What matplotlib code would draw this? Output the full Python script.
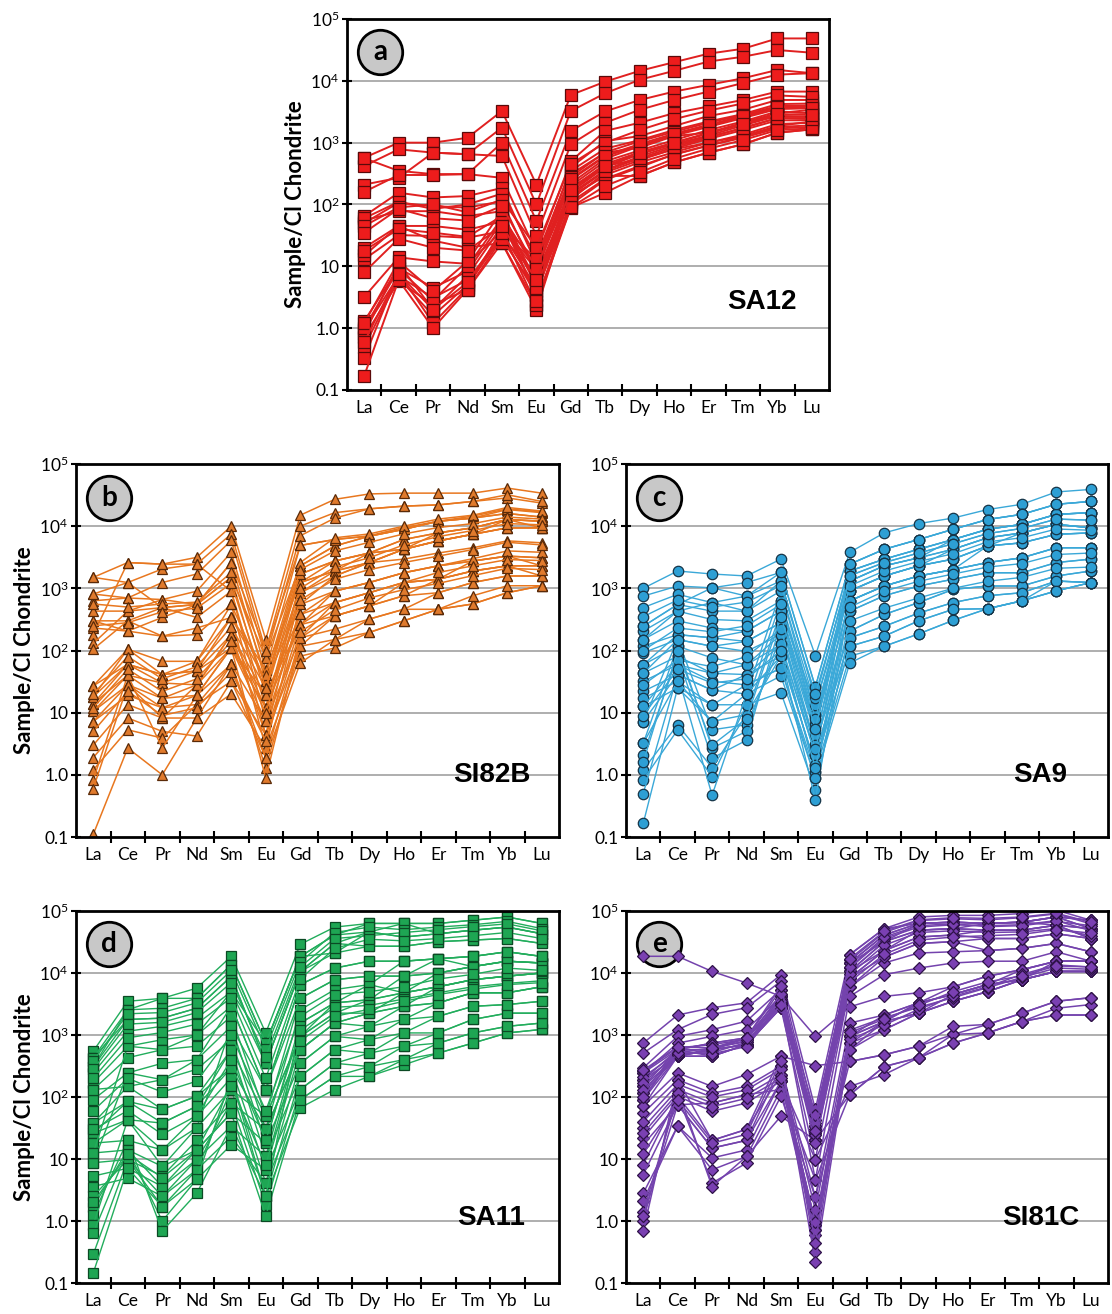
import matplotlib
matplotlib.use("Agg")
import matplotlib.pyplot as plt
from matplotlib.ticker import FixedLocator, FixedFormatter, NullFormatter

# Fonts
plt.rcParams["font.family"] = ["Lato", "DejaVu Sans"]
plt.rcParams["mathtext.fontset"] = "custom"
plt.rcParams["mathtext.rm"] = "Lato"
plt.rcParams["mathtext.default"] = "rm"

# Data: chondrite-normalised REE profiles (one row per analysis)
ree = ["La", "Ce", "Pr", "Nd", "Sm", "Eu", "Gd", "Tb", "Dy", "Ho", "Er", "Tm", "Yb", "Lu"]
y_ticks = [0.1, 1, 10, 100, 1000, 1e4, 1e5]
y_tick_labels = ["0.1", "1.0", "10", "10$^2$", "10$^3$", "10$^4$", "10$^5$"]

sa12 = [
    [570, 1000, 1000, 1200, 3250, 210, 5900, 9700, 14500, 20000, 27500, 33000, 48500, 48500],
    [420, 780, 690, 650, 1750, 100, 3250, 6300, 10400, 14500, 20500, 24500, 31500, 28500],
    [560, 350, 310, 310, 1000, 54, 1550, 3200, 4900, 6700, 8600, 11000, 15000, 13300],
    [210, 270, 690, 650, 610, 31, 940, 2100, 3400, 4900, 6700, 9200, 12600, 13300],
    [160, 300, 300, 310, 270, 17, 500, 1550, 2100, 3000, 3850, 4900, 6700, 6700],
    [65, 155, 130, 137, 185, 11, 400, 1060, 1280, 1860, 2700, 3400, 4900, 4900],
    [50, 107, 94, 89, 113, 7.3, 310, 690, 830, 1280, 1450, 2100, 3000, 3400],
    [55, 78, 78, 65, 78, 5, 186, 420, 540, 780, 1000, 1280, 1860, 2200],
    [20, 45, 45, 39, 53, 3.5, 137, 290, 290, 480, 690, 940, 1450, 1640],
    [13, 32, 31, 29, 37, 2.4, 89, 155, 290, 480, 690, 940, 1450, 1640],
    [15, 45, 26, 20, 24, 2.0, 110, 260, 420, 640, 900, 1250, 1800, 1900],
    [3.2, 14, 12, 11, 37, 11, 250, 600, 900, 1300, 1800, 2500, 3500, 3600],
    [1.3, 9.4, 4.5, 8.3, 53, 5, 200, 500, 750, 1100, 1600, 2200, 3200, 3000],
    [0.95, 7, 3.1, 6, 30, 3.5, 160, 400, 650, 950, 1300, 1900, 2700, 2600],
    [0.73, 5.7, 2.4, 4.2, 24, 2.4, 120, 330, 520, 800, 1150, 1600, 2300, 2300],
    [0.5, 6.5, 1.6, 5, 30, 7.3, 150, 360, 600, 900, 1250, 1700, 2500, 2500],
    [0.33, 8, 1.2, 4.5, 40, 9, 180, 450, 700, 1000, 1400, 2000, 2800, 2900],
    [0.17, 6, 1.0, 4.2, 28, 4, 100, 250, 400, 650, 900, 1200, 1700, 1800],
    [60, 110, 85, 100, 150, 14, 350, 800, 1100, 1600, 2200, 2900, 4200, 4300],
    [45, 90, 100, 75, 120, 20, 450, 1000, 1600, 2400, 3300, 4300, 5800, 5500],
    [18, 40, 35, 30, 65, 9, 220, 550, 880, 1350, 1900, 2600, 3700, 3800],
    [0.8, 11, 2.0, 7, 45, 13, 280, 700, 1050, 1500, 2100, 2800, 3900, 4000],
    [1.0, 9, 2.8, 10, 60, 6, 130, 300, 480, 700, 1000, 1350, 2000, 2100],
    [1.2, 12, 4, 12, 80, 2.8, 90, 200, 330, 550, 800, 1100, 1600, 1700],
    [35, 85, 60, 55, 95, 9, 260, 620, 950, 1400, 1950, 2700, 3800, 3700],
    [0.6, 7.5, 2.0, 5.5, 35, 4.5, 140, 350, 560, 850, 1200, 1750, 2500, 2400],
    [8, 28, 20, 18, 45, 6, 170, 420, 680, 1000, 1450, 2000, 2900, 2800],
]

si82b = [
    [1500, 2600, 2450, 3150, 10000, 150, 15000, 27000, 33000, 34000, 34000, 34000, 41000, 34000],
    [810, 1240, 2050, 2450, 7500, 100, 10000, 16500, 19000, 21000, 22000, 25000, 28500, 23500],
    [630, 700, 1240, 1700, 5900, 76, 7000, 13500, 19000, 21000, 22000, 25000, 32000, 25000],
    [430, 430, 660, 900, 3800, 49, 4900, 6100, 6900, 8900, 12000, 13500, 18500, 16500],
    [300, 300, 490, 550, 2600, 32, 2300, 4800, 6900, 8900, 12000, 13500, 16000, 14000],
    [230, 205, 340, 550, 1500, 19, 1700, 2750, 3700, 6100, 7800, 9400, 12800, 12000],
    [180, 2600, 2450, 2450, 900, 12, 1240, 1900, 3700, 4250, 5800, 7400, 12800, 12000],
    [130, 430, 490, 340, 900, 7.3, 1240, 2750, 3700, 4250, 7800, 9400, 12800, 9400],
    [105, 300, 170, 180, 550, 4.4, 850, 1900, 2600, 4250, 5800, 7400, 9400, 9400],
    [300, 205, 170, 230, 340, 2.7, 550, 1580, 2600, 2950, 3700, 4500, 5800, 5400],
    [27, 105, 67, 67, 340, 32, 550, 900, 1240, 1780, 2300, 2750, 3300, 3100],
    [18, 60, 41, 47, 180, 19, 380, 590, 850, 1240, 1400, 1900, 2300, 2300],
    [14, 40, 30, 28, 110, 12, 260, 360, 520, 760, 850, 1240, 1580, 1580],
    [10.5, 28, 17, 19, 60, 7.3, 160, 220, 320, 460, 460, 560, 850, 1100],
    [7.2, 19, 12, 13.5, 32, 4.4, 117, 150, 195, 300, 460, 560, 850, 1100],
    [3.0, 13.5, 8.2, 8.2, 20, 2.7, 81, 110, 195, 300, 460, 760, 1100, 1100],
    [1.9, 8.2, 5, 4.2, 32, 1.9, 63, 150, 320, 460, 850, 1240, 1580, 1580],
    [1.2, 5.3, 3.9, 13.5, 60, 1.3, 117, 360, 520, 760, 1400, 1900, 2300, 1580],
    [0.83, 40, 2.7, 19, 110, 0.89, 160, 590, 850, 1240, 1400, 2750, 3300, 2300],
    [0.6, 28, 8.2, 28, 180, 4.4, 260, 900, 1240, 1780, 2300, 2750, 3300, 3100],
    [0.11, 2.7, 1.0, 8.2, 60, 1.9, 160, 360, 520, 1240, 1400, 1900, 2300, 2300],
    [14, 60, 30, 47, 340, 49, 1240, 1900, 2600, 4250, 5800, 7400, 9400, 9400],
    [18, 105, 41, 67, 550, 32, 1700, 2750, 3700, 6100, 7800, 9400, 12800, 12000],
    [10.5, 40, 17, 28, 180, 12, 850, 1580, 2600, 4250, 5800, 7400, 9400, 9400],
    [7.2, 28, 12, 19, 110, 7.3, 380, 900, 1240, 1780, 2300, 3000, 4000, 3800],
    [27, 60, 41, 47, 110, 19, 260, 590, 850, 1240, 1800, 2300, 2900, 2800],
    [1500, 1240, 490, 550, 1500, 76, 2300, 4800, 6900, 8900, 12000, 13500, 16000, 14000],
    [810, 700, 660, 550, 2600, 100, 4900, 6100, 7000, 9500, 12000, 14500, 19000, 17000],
    [560, 500, 560, 600, 1800, 40, 2600, 6500, 7500, 10000, 13000, 15000, 20000, 17500],
    [250, 280, 420, 480, 1200, 25, 2000, 4000, 5500, 7500, 9500, 11000, 14000, 13000],
    [20, 80, 35, 55, 240, 25, 1000, 2200, 3100, 5000, 6800, 8500, 11000, 10500],
    [12, 50, 22, 35, 140, 10, 650, 1400, 2000, 2600, 3300, 4200, 5500, 5000],
    [5, 22, 9, 12, 45, 3.5, 200, 450, 700, 950, 1200, 1600, 2100, 2000],
]

sa9 = [
    [1000, 1900, 1700, 1580, 2950, 83, 3800, 7800, 11000, 13500, 18500, 22500, 35500, 39000],
    [750, 1090, 1020, 1240, 1800, 26, 2450, 4250, 6100, 8900, 12800, 15500, 22500, 25000],
    [490, 800, 590, 750, 1310, 17, 1900, 2950, 4250, 6100, 8900, 10700, 15500, 16500],
    [245, 550, 430, 430, 910, 13.4, 1310, 2300, 3100, 4250, 6500, 7800, 10700, 9400],
    [205, 430, 315, 300, 630, 9.3, 910, 1580, 2300, 2950, 4800, 5400, 7400, 7800],
    [150, 300, 230, 205, 430, 6.4, 630, 1090, 1580, 2000, 2600, 3100, 4500, 4500],
    [117, 180, 160, 140, 280, 4.4, 430, 760, 1090, 1400, 1780, 1780, 2600, 2950],
    [92, 150, 117, 97, 180, 3.0, 205, 380, 590, 960, 1090, 1090, 1580, 1900],
    [59, 117, 76, 59, 125, 2.1, 160, 245, 400, 590, 760, 850, 1310, 1240],
    [43, 81, 43, 41, 81, 1.45, 117, 170, 300, 460, 470, 630, 910, 1240],
    [32, 59, 32, 28, 52, 1.1, 81, 117, 185, 305, 470, 630, 910, 1240],
    [22, 41, 23, 20, 39, 0.89, 63, 117, 185, 305, 470, 630, 1310, 1240],
    [17, 32, 13.4, 13.4, 21, 0.57, 205, 380, 590, 960, 1090, 1090, 1580, 1900],
    [12.6, 25, 7.2, 9.3, 81, 0.4, 630, 1090, 1580, 2000, 4800, 5400, 7400, 7800],
    [7.2, 150, 5.3, 6.4, 125, 1.1, 910, 1580, 2300, 4250, 6500, 7800, 10700, 9400],
    [3.2, 117, 2.7, 5, 180, 2.1, 1310, 2300, 3100, 4250, 6500, 7800, 10700, 9400],
    [2.1, 81, 1.85, 3.6, 280, 3.0, 1900, 2950, 4250, 6100, 8900, 10700, 15500, 16500],
    [1.2, 6.4, 1.3, 9.3, 430, 4.4, 2450, 4250, 6100, 8900, 12800, 15500, 22500, 25000],
    [0.83, 5.3, 0.94, 13.4, 630, 6.4, 1310, 2300, 3100, 6100, 8900, 10700, 15500, 16500],
    [0.5, 41, 0.47, 20, 910, 9.3, 910, 1580, 2300, 2950, 4800, 7800, 10700, 9400],
    [0.165, 25, 13.4, 28, 52, 0.89, 630, 1090, 1580, 2000, 2600, 3100, 4500, 4500],
    [59, 180, 160, 205, 430, 13.4, 910, 1580, 2300, 2950, 4800, 5400, 7400, 7800],
    [43, 150, 117, 140, 280, 6.4, 630, 1090, 1580, 2000, 2600, 3100, 4500, 4500],
    [12.6, 59, 43, 59, 180, 3.0, 430, 760, 1090, 1400, 1780, 1780, 2600, 2950],
    [7.2, 41, 23, 41, 125, 2.1, 160, 245, 400, 590, 760, 850, 1310, 1240],
    [3.2, 32, 7.2, 20, 81, 1.45, 117, 170, 300, 460, 470, 630, 910, 1240],
    [150, 430, 590, 430, 1310, 17, 1900, 2950, 4250, 6100, 8900, 10700, 15500, 16500],
    [245, 550, 1020, 750, 1800, 26, 2450, 4250, 6100, 8900, 12800, 15500, 22500, 25000],
    [350, 650, 500, 600, 1100, 20, 1600, 2600, 3700, 5200, 7600, 9200, 13000, 12500],
    [100, 230, 200, 250, 550, 8, 1100, 1900, 2700, 3600, 5600, 6500, 9000, 8600],
    [28, 70, 55, 80, 220, 2.6, 500, 900, 1300, 1700, 2200, 2500, 3500, 3700],
    [9, 50, 30, 35, 100, 1.3, 300, 480, 700, 1000, 1300, 1500, 2100, 2200],
    [1.6, 100, 3, 8, 350, 5.5, 1600, 2600, 3700, 5200, 7600, 9200, 13000, 12500],
]

sa11 = [
    [550, 3500, 3900, 5700, 18500, 1080, 29000, 55000, 63000, 63000, 63000, 71000, 80000, 63000],
    [430, 2550, 2700, 3900, 13600, 740, 18500, 41000, 46000, 38000, 43000, 49000, 55000, 43000],
    [310, 1780, 1870, 2700, 8800, 350, 10600, 30000, 27000, 27000, 32000, 34000, 36000, 30000],
    [245, 1150, 1380, 1870, 5000, 740, 18500, 21000, 46000, 63000, 43000, 49000, 55000, 43000],
    [170, 660, 840, 1000, 2900, 132, 6500, 12000, 15500, 15500, 17000, 18500, 22000, 18500],
    [132, 430, 580, 660, 2000, 49, 3900, 7800, 8900, 8900, 10000, 12700, 15500, 14500],
    [91, 245, 350, 400, 1380, 30, 2550, 5400, 6500, 4800, 6000, 7800, 8900, 10000],
    [132, 148, 190, 280, 840, 18, 1560, 3300, 3700, 4800, 6000, 7800, 8900, 10000],
    [38, 85, 63, 103, 580, 11, 950, 2250, 2250, 2900, 3300, 4800, 4800, 6000],
    [26, 43, 38, 71, 295, 6.7, 580, 1560, 1380, 1780, 2000, 2900, 3100, 3500],
    [18, 20, 14, 49, 203, 4.1, 350, 950, 840, 1080, 1080, 1780, 2250, 2250],
    [12.5, 14, 7.6, 32, 132, 2.5, 215, 580, 510, 660, 740, 1080, 1380, 1560],
    [8.7, 9.8, 5.3, 20, 80, 1.8, 132, 350, 310, 400, 510, 740, 1080, 1230],
    [5.3, 7.1, 3.6, 14, 55, 1.2, 91, 215, 215, 330, 510, 740, 1080, 1230],
    [3.6, 4.9, 2.5, 9.8, 34, 2.5, 67, 132, 215, 400, 740, 1080, 1380, 1560],
    [2.5, 9.8, 1.7, 6.7, 23, 4.1, 91, 215, 310, 660, 1080, 1780, 2250, 2250],
    [1.7, 14, 1.0, 4.7, 17, 6.7, 132, 350, 510, 1080, 2000, 2900, 3100, 3500],
    [1.27, 20, 0.69, 2.8, 34, 11, 215, 580, 840, 1780, 3300, 4800, 4800, 6000],
    [0.87, 43, 7.6, 14, 55, 18, 350, 950, 1380, 2900, 6000, 7800, 8900, 10000],
    [0.64, 14, 3.6, 9.8, 80, 30, 580, 1560, 2250, 4800, 10000, 12700, 15500, 14500],
    [0.29, 9.8, 2.5, 6.7, 132, 49, 950, 2250, 3700, 8900, 17000, 18500, 22000, 18500],
    [0.145, 7.1, 1.7, 4.7, 203, 2.5, 1560, 3300, 6500, 15500, 17000, 12700, 15500, 14500],
    [38, 148, 63, 103, 295, 30, 580, 1560, 2250, 2900, 3300, 4800, 4800, 6000],
    [26, 85, 38, 71, 580, 49, 950, 3300, 3700, 4800, 6000, 7800, 8900, 10000],
    [18, 43, 14, 32, 1380, 132, 3900, 7800, 8900, 8900, 10000, 12700, 15500, 14500],
    [310, 2550, 3900, 3900, 13600, 740, 18500, 41000, 63000, 63000, 63000, 71000, 80000, 63000],
    [430, 1780, 1870, 2700, 8800, 350, 10600, 30000, 46000, 38000, 43000, 49000, 55000, 43000],
    [8.7, 245, 190, 400, 2900, 132, 6500, 12000, 15500, 15500, 17000, 18500, 22000, 18500],
    [12.5, 660, 580, 1000, 5000, 350, 10600, 21000, 27000, 27000, 32000, 34000, 36000, 30000],
    [380, 2200, 2300, 3300, 11000, 600, 15000, 45000, 55000, 50000, 55000, 60000, 68000, 52000],
    [280, 1500, 1600, 2300, 7000, 450, 12500, 36000, 40000, 45000, 50000, 56000, 62000, 48000],
    [200, 900, 1100, 1500, 4000, 200, 8000, 25000, 35000, 33000, 36000, 40000, 45000, 36000],
    [60, 200, 120, 180, 1000, 60, 2000, 4500, 5000, 6000, 8000, 9500, 12000, 11000],
    [30, 60, 25, 50, 400, 20, 1200, 2800, 3000, 3800, 4800, 6000, 6800, 7500],
    [2, 12, 5, 14, 150, 8, 800, 2000, 2600, 3500, 4500, 5500, 6500, 7000],
]

si81c = [
    [18600, 18600, 10600, 6900, 4200, 950, 2850, 4200, 4800, 6000, 8900, 11300, 15500, 15500],
    [740, 2100, 2750, 3300, 9400, 63, 19800, 52000, 80000, 85000, 85000, 91000, 103000, 71000],
    [510, 1220, 2150, 2750, 7400, 43, 14500, 41000, 63000, 66000, 63000, 66000, 80000, 52000],
    [295, 950, 1220, 1670, 5400, 34, 10600, 32000, 49000, 52000, 49000, 49000, 59000, 36000],
    [245, 740, 950, 1220, 4200, 26, 8300, 23000, 38000, 41000, 36000, 36000, 43000, 36000],
    [190, 580, 740, 900, 3300, 20, 6000, 18000, 30000, 32000, 23000, 25000, 30000, 22000],
    [148, 580, 580, 700, 2750, 43, 14500, 41000, 63000, 66000, 63000, 66000, 59000, 52000],
    [115, 455, 580, 700, 3300, 34, 10600, 32000, 49000, 52000, 49000, 49000, 59000, 52000],
    [91, 455, 455, 700, 4200, 26, 8300, 23000, 49000, 52000, 63000, 66000, 80000, 71000],
    [245, 580, 580, 900, 5400, 20, 19800, 52000, 63000, 66000, 63000, 66000, 80000, 71000],
    [190, 455, 455, 700, 2750, 9.8, 6000, 14500, 21000, 22000, 23000, 25000, 30000, 22000],
    [148, 455, 580, 900, 3300, 4.6, 4200, 9400, 12000, 14500, 15500, 15500, 22000, 15500],
    [71, 245, 148, 230, 455, 320, 375, 480, 660, 1020, 1480, 2250, 3500, 4000],
    [55, 190, 115, 148, 315, 2.4, 1560, 2100, 3300, 4500, 6500, 7800, 10600, 10600],
    [32, 132, 80, 109, 230, 0.87, 950, 1650, 2250, 3500, 5000, 7800, 10600, 10600],
    [22, 103, 59, 80, 180, 0.72, 740, 1220, 2250, 3500, 5000, 7800, 10600, 10600],
    [17, 75, 80, 109, 132, 0.6, 580, 1650, 3300, 4500, 6500, 11300, 15500, 15500],
    [8.1, 103, 20, 30, 455, 0.32, 950, 2100, 3300, 4500, 6500, 7800, 10600, 10600],
    [5.6, 75, 15, 20, 315, 0.22, 740, 1650, 2250, 3500, 5000, 7800, 10600, 10600],
    [2.8, 34, 10.4, 14, 180, 9.8, 148, 230, 430, 740, 1080, 1650, 2100, 2100],
    [2.1, 34, 6.7, 11, 132, 4.6, 109, 310, 430, 1020, 1080, 1650, 2700, 3100],
    [1.4, 103, 4.1, 8.6, 103, 2.4, 375, 480, 660, 1380, 1480, 2250, 3500, 4000],
    [1.0, 132, 3.6, 11, 49, 20, 109, 310, 430, 740, 1080, 1650, 2100, 2100],
    [0.68, 190, 20, 30, 230, 0.87, 580, 1220, 2250, 4500, 6500, 7800, 15500, 15500],
    [1.2, 75, 15, 20, 180, 0.72, 950, 1650, 3300, 6000, 8900, 11300, 15500, 15500],
    [91, 580, 740, 900, 4200, 20, 10600, 23000, 38000, 41000, 49000, 49000, 59000, 36000],
    [71, 455, 580, 700, 3300, 26, 14500, 32000, 63000, 66000, 63000, 66000, 80000, 52000],
    [115, 580, 455, 700, 2750, 34, 8300, 18000, 30000, 32000, 36000, 36000, 43000, 36000],
    [260, 620, 700, 850, 3800, 30, 12000, 36000, 55000, 60000, 58000, 60000, 70000, 48000],
    [210, 520, 620, 780, 3000, 38, 9500, 28000, 45000, 48000, 45000, 46000, 52000, 40000],
    [170, 500, 520, 760, 3600, 24, 16000, 45000, 70000, 75000, 72000, 78000, 90000, 62000],
    [130, 470, 600, 820, 4600, 52, 12500, 38000, 58000, 62000, 56000, 58000, 68000, 58000],
    [100, 520, 500, 650, 3100, 18, 7200, 20000, 34000, 38000, 40000, 42000, 50000, 44000],
    [270, 650, 620, 900, 6200, 28, 17000, 47000, 72000, 78000, 76000, 80000, 92000, 66000],
    [40, 160, 100, 130, 280, 1.5, 1200, 1900, 2800, 4000, 5800, 8500, 12000, 11500],
    [26, 115, 70, 95, 200, 0.95, 850, 1450, 2600, 4200, 6000, 9500, 13500, 12500],
    [12, 90, 18, 25, 380, 0.45, 1100, 1800, 3000, 5000, 7200, 9000, 13000, 12500],
]

# Panel layout and styling (figure pixel boxes: left, top, right, bottom)
W, H = 1112, 1314
panels = [
    dict(data=sa12, letter="a", name="SA12", box=(347, 19, 829, 390), ylabel=True,
         line="#e02020", face="#ee1c1c", edge="#5a0a0a", marker="s", ms=8.0, lw=1.4, name_y=0.238),
    dict(data=si82b, letter="b", name="SI82B", box=(76, 464, 559, 837), ylabel=True,
         line="#e8771f", face="#e07a2c", edge="#5a2a08", marker="^", ms=7.5, lw=1.1, name_y=0.165),
    dict(data=sa9, letter="c", name="SA9", box=(626, 464, 1108, 837), ylabel=False,
         line="#3aa8d8", face="#2d9fd4", edge="#163548", marker="o", ms=7.5, lw=1.0, name_y=0.165),
    dict(data=sa11, letter="d", name="SA11", box=(76, 911, 559, 1283), ylabel=True,
         line="#22ad5c", face="#1ea653", edge="#0b4a24", marker="s", ms=7.5, lw=1.0, name_y=0.175),
    dict(data=si81c, letter="e", name="SI81C", box=(626, 911, 1108, 1283), ylabel=False,
         line="#7443ad", face="#7a40b2", edge="#2e1248", marker="D", ms=6.5, lw=1.1, name_y=0.175),
]

fig = plt.figure(figsize=(W / 100, H / 100), dpi=100)

for p in panels:
    l, t, r, b = p["box"]
    ax = fig.add_axes([l / W, 1 - b / H, (r - l) / W, (b - t) / H])
    x = list(range(len(ree)))

    for prof in p["data"]:
        ax.plot(x, prof, color=p["line"], lw=p["lw"], marker=p["marker"], ms=p["ms"],
                mfc=p["face"], mec=p["edge"], mew=0.9, zorder=3)

    ax.set_yscale("log")
    ax.set_ylim(0.1, 1e5)
    ax.set_xlim(-0.5, len(ree) - 0.5)

    # horizontal grid at each decade
    for yv in y_ticks[1:-1]:
        ax.axhline(yv, color="#a8a8a8", lw=1.3, zorder=1)

    ax.yaxis.set_major_locator(FixedLocator(y_ticks))
    ax.yaxis.set_major_formatter(FixedFormatter(y_tick_labels))
    ax.yaxis.set_minor_locator(FixedLocator([]))
    ax.yaxis.set_minor_formatter(NullFormatter())
    ax.tick_params(axis="y", which="major", direction="inout", length=7, width=1.5,
                   labelsize=12.5, pad=2, colors="black")

    ax.xaxis.set_major_locator(FixedLocator(x))
    ax.xaxis.set_major_formatter(FixedFormatter(ree))
    ax.xaxis.set_minor_locator(FixedLocator([i + 0.5 for i in x[:-1]]))
    ax.tick_params(axis="x", which="major", length=0, labelsize=12.5, pad=7)
    ax.tick_params(axis="x", which="minor", direction="inout", length=9, width=1.5)

    for s in ax.spines.values():
        s.set_linewidth(2.0)
        s.set_color("black")
        s.set_zorder(5)

    if p["ylabel"]:
        ax.set_ylabel("Sample/Cl Chondrite", fontsize=16, fontweight="bold", labelpad=3)

    # panel letter in a grey circle (sits under the data, as in the original)
    ax.plot([0.069], [0.91], marker="o", ms=32, mfc="#c8c8c8", mec="black", mew=2,
            transform=ax.transAxes, zorder=2, clip_on=False)
    ax.text(0.069, 0.91, p["letter"], transform=ax.transAxes, ha="center", va="center",
            fontsize=20, fontweight="bold", zorder=2.5)

    # sample name
    ax.text(0.86, p["name_y"], p["name"], transform=ax.transAxes, ha="center", va="center",
            fontsize=20, fontweight="bold", family=["Liberation Sans", "DejaVu Sans"], zorder=7)

fig.savefig("out.png", dpi=100)
